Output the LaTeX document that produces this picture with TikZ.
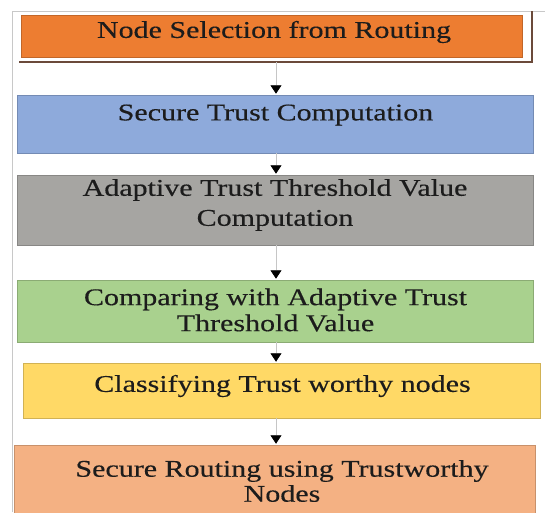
\documentclass[tikz,border=0pt]{standalone}
\usepackage{fontspec}
\setmainfont{Liberation Serif}[FakeStretch=1.25,FakeBold=0.35]
\usetikzlibrary{arrows.meta,calc}
\definecolor{cOrange}{HTML}{ED7D31}
\definecolor{cBlue}{HTML}{8EAADB}
\definecolor{cGray}{HTML}{A6A5A2}
\definecolor{cGreen}{HTML}{A9D18E}
\definecolor{cYellow}{HTML}{FFD966}
\definecolor{cSalmon}{HTML}{F4B183}
\definecolor{cShadow}{HTML}{6B4A3A}
\definecolor{cFrame}{HTML}{C8C8C8}
\definecolor{cText}{HTML}{1C1C1C}
\begin{document}
\begin{tikzpicture}[x=1pt,y=-1pt,
  box/.style={draw=#1!82!black, line width=0.5pt, fill=#1, inner sep=0pt},
  label/.style={text=cText, align=center, inner sep=0pt, font=\fontsize{24}{#1}\selectfont},
  label/.default=26,
  conn/.style={draw=gray!45, line width=0.8pt, -{Triangle[width=11pt,length=8.5pt,color=black]}, shorten >=1pt}]
\useasboundingbox (0,0) rectangle (545,512);
\clip (0,0) rectangle (545,512);
% outer frame
\draw[cFrame, line width=0.8pt] (12,512) -- (12,11) -- (545,11);
% boxes
\node[box=cOrange, minimum width=501pt, minimum height=42pt] (b1) at (271.5,36) {};
\node[box=cBlue, minimum width=516pt, minimum height=58pt] (b2) at (274.8,124) {};
\node[box=cGray, minimum width=516pt, minimum height=70pt] (b3) at (274.8,210) {};
\node[box=cGreen, minimum width=516pt, minimum height=62pt] (b4) at (274.8,311) {};
\node[box=cYellow, minimum width=517pt, minimum height=55pt] (b5) at (281.3,390.5) {};
\node[box=cSalmon, minimum width=521pt, minimum height=85pt] (b6) at (274.5,487.5) {};
% shadow of first box
\coordinate (sh) at (532,62);
\draw[cShadow, line width=1.4pt] (19,62) -- (sh) -- (532,11);
% labels
\node[label] (t1) at (274,32) {Node Selection from Routing};
\node[label] (t2) at (275.5,115) {Secure Trust Computation};
\node[label=30] (t3) at (275,205) {Adaptive Trust Threshold Value\\Computation};
\node[label] (t4) at (275.5,310) {Comparing with Adaptive Trust\\Threshold Value};
\node[label] (t5) at (282.5,386) {Classifying Trust worthy nodes};
\node[label=25] (t6) at (282,481) {Secure Routing using Trustworthy\\Nodes};
% connectors
\coordinate (ax) at (276,0);
\draw[conn] (sh -| ax) -- (b2.north -| ax);
\draw[conn] (b2.south -| ax) -- (b3.north -| ax);
\draw[conn] (b3.south -| ax) -- (b4.north -| ax);
\draw[conn] (b4.south -| ax) -- (b5.north -| ax);
\draw[conn] (b5.south -| ax) -- (b6.north -| ax);
\end{tikzpicture}
\end{document}
